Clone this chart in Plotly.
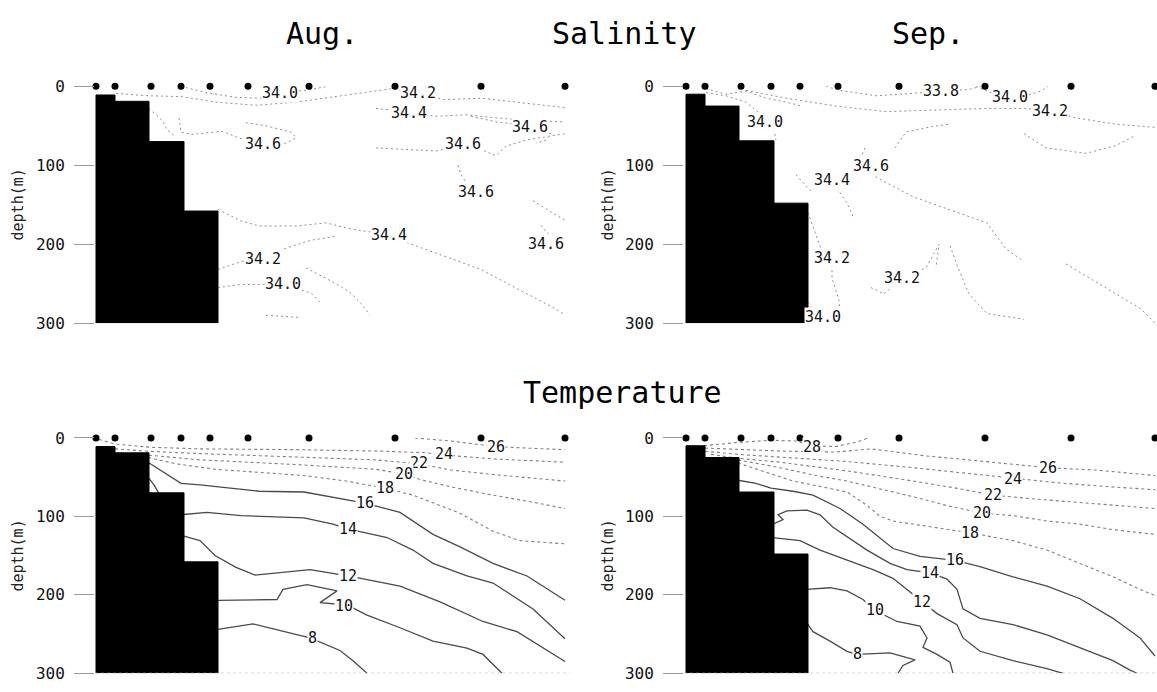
import plotly.graph_objects as go

W, H = 1157, 692

# ---------------- data ----------------
STATIONS = [0, 19, 55, 85, 114, 152, 213, 299, 385, 469]   # station positions (distance units)
DEPTH_TICKS = [0, 100, 200, 300]
BATHY_EDGES = [0, 19, 53, 88, 122]
AUG_BATHY = [11, 19, 70, 158]
SEP_BATHY = [10, 25, 69, 148]

# --- Aug temperature isotherms (x, depth) ---
AUG_T26_X = [319, 355, 380, 401, 430, 469]
AUG_T26_D = [0, 4, 8, 11, 13, 15]
AUG_T24_X = [3, 20, 55, 104, 200, 290, 330, 349, 400, 469]
AUG_T24_D = [2, 8, 12, 14, 15, 17, 19, 22, 27, 31]
AUG_T22_X = [19, 52, 104, 200, 280, 323, 355, 400, 469]
AUG_T22_D = [14, 17, 20, 24, 28, 33, 41, 47, 55]
AUG_T20_X = [35, 52, 104, 200, 280, 308, 324, 357, 397, 437, 469]
AUG_T20_D = [20, 22, 28, 34, 40, 46, 53, 63, 73, 82, 90]
AUG_T18_X = [52, 80, 119, 163, 208, 250, 289, 317, 364, 397, 424, 469]
AUG_T18_D = [25, 33, 40, 44, 48, 55, 64, 73, 96, 119, 131, 135]
AUG_T16_X = [52, 71, 85, 104, 126, 163, 208, 237, 269, 304, 337, 364, 397, 431, 469]
AUG_T16_D = [31, 46, 58, 60, 63, 68, 69, 76, 83, 95, 123, 139, 160, 176, 207]
AUG_T16B_X = [52, 58, 63]
AUG_T16B_D = [50, 60, 71]
AUG_T14_X = [85, 111, 145, 208, 237, 252, 291, 317, 337, 371, 397, 437, 469]
AUG_T14_D = [98, 95, 99, 102, 110, 116, 127, 143, 160, 176, 185, 218, 256]
AUG_T12_X = [87, 104, 119, 140, 159, 214, 252, 304, 344, 387, 421, 469]
AUG_T12_D = [125, 131, 150, 165, 175, 168, 176, 189, 209, 234, 247, 285]
AUG_T10_X = [122, 181, 187, 211, 241, 224, 251, 271, 304, 337, 371, 387, 406]
AUG_T10_D = [207, 206, 193, 187, 195, 210, 213, 226, 242, 259, 268, 276, 300]
AUG_T8_X = [122, 157, 214, 244, 257, 271]
AUG_T8_D = [244, 237, 255, 271, 284, 300]
AUG_T_LABELS = ["26", "24", "22", "20", "18", "16", "14", "12", "10", "8"]
AUG_T_LABEL_X = [400, 348, 323, 308, 289, 269, 252, 252, 248, 216]
AUG_T_LABEL_D = [11, 21, 32, 46, 64, 83, 116, 176, 214, 255]

# --- Sep temperature isotherms ---
SEP_T28_X = [18, 50, 85, 110, 126, 150, 172, 182]
SEP_T28_D = [10, 6, 3, 4, 10, 11, 5, 0]
SEP_T26_X = [19, 52, 100, 150, 185, 204, 240, 290, 330, 362, 410, 469]
SEP_T26_D = [13, 15, 17, 18, 14, 17, 23, 29, 34, 38, 41, 48]
SEP_T24_X = [19, 52, 100, 160, 227, 280, 327, 370, 420, 469]
SEP_T24_D = [17, 21, 25, 30, 38, 45, 52, 57, 62, 66]
SEP_T22_X = [25, 52, 94, 161, 227, 270, 307, 350, 410, 469]
SEP_T22_D = [21, 26, 31, 42, 55, 64, 73, 78, 84, 90]
SEP_T20_X = [52, 94, 130, 161, 227, 260, 296, 327, 361, 394, 427, 469]
SEP_T20_D = [28, 38, 48, 55, 75, 86, 96, 99, 106, 110, 117, 123]
SEP_T18_X = [52, 84, 107, 127, 161, 181, 194, 207, 227, 261, 284, 327, 361, 394, 427, 454, 469]
SEP_T18_D = [32, 45, 55, 60, 69, 86, 100, 106, 110, 116, 121, 131, 143, 160, 177, 193, 201]
SEP_T16_X = [52, 70, 85, 107, 127, 154, 177, 207, 234, 269, 294, 327, 361, 394, 427, 454, 469]
SEP_T16_D = [54, 58, 64, 68, 73, 90, 110, 141, 151, 156, 164, 177, 189, 205, 230, 255, 278]
SEP_T14_X = [87, 97, 92, 101, 121, 134, 147, 161, 181, 204, 221, 244, 261, 271, 277, 294, 327, 361, 394, 427, 444, 451]
SEP_T14_D = [110, 104, 98, 93, 92, 98, 114, 126, 143, 160, 168, 172, 180, 193, 218, 230, 238, 251, 267, 284, 296, 300]
SEP_T12_X = [87, 114, 134, 161, 187, 207, 221, 236, 251, 271, 277, 294, 327, 361, 377]
SEP_T12_D = [127, 131, 143, 156, 168, 179, 193, 209, 224, 238, 255, 272, 284, 294, 300]
SEP_T10_X = [121, 144, 161, 177, 189, 211, 234, 241, 237, 251, 264, 267]
SEP_T10_D = [193, 191, 195, 206, 220, 234, 240, 255, 267, 276, 286, 300]
SEP_T8_X = [121, 127, 144, 161, 171, 204, 229, 217, 212]
SEP_T8_D = [236, 247, 259, 272, 276, 274, 283, 290, 300]
SEP_T_LABELS = ["28", "26", "24", "22", "20", "18", "16", "14", "12", "10", "8"]
SEP_T_LABEL_X = [126, 362, 327, 307, 296, 284, 269, 244, 236, 189, 171]
SEP_T_LABEL_D = [11, 38, 52, 73, 96, 121, 156, 172, 209, 220, 276]

# --- Aug salinity isohalines ---
AUG_S1_X = [85, 110, 140, 165, 184, 215, 232]
AUG_S1_D = [0, 8, 14, 15, 9, 4, 0]
AUG_S2_X = [20, 52, 85, 120, 160, 200, 245, 274, 296, 322, 348, 385, 422, 469]
AUG_S2_D = [9, 12, 13, 20, 24, 20, 12, 7, 3, 9, 17, 15, 20, 27]
AUG_S3_X = [280, 296, 313, 340, 370, 400, 440, 469]
AUG_S3_D = [28, 30, 34, 38, 36, 40, 44, 45]
AUG_S4_X = [375, 400, 420, 434, 455, 450, 440]
AUG_S4_D = [38, 45, 48, 52, 60, 68, 72]
AUG_S5_X = [280, 310, 340, 367, 385, 400, 410, 430, 460, 469]
AUG_S5_D = [78, 80, 82, 73, 80, 88, 76, 68, 62, 60]
AUG_S6_X = [83, 85, 96, 126, 144, 167, 190, 200, 195, 170, 150]
AUG_S6_D = [40, 58, 61, 57, 66, 73, 72, 65, 58, 50, 46]
AUG_S7_X = [53, 60, 67, 71, 80]
AUG_S7_D = [28, 36, 44, 55, 64]
AUG_S8_X = [362, 365, 372, 380]
AUG_S8_D = [100, 112, 125, 134]
AUG_S9_X = [437, 450, 459, 469]
AUG_S9_D = [145, 155, 163, 170]
AUG_S10_X = [445, 450, 455]
AUG_S10_D = [176, 184, 190]
AUG_S11_X = [122, 144, 163, 200, 230, 256, 293, 311, 348, 385, 422, 460, 469]
AUG_S11_D = [156, 170, 177, 177, 173, 181, 188, 198, 215, 232, 257, 282, 290]
AUG_S12_X = [122, 145, 167, 190, 215, 240]
AUG_S12_D = [232, 222, 219, 205, 195, 190]
AUG_S13_X = [210, 225, 240, 255, 265, 274]
AUG_S13_D = [230, 240, 250, 262, 275, 290]
AUG_S14_X = [122, 145, 187, 215, 225]
AUG_S14_D = [255, 251, 251, 262, 275]
AUG_S15_X = [170, 190, 205]
AUG_S15_D = [290, 292, 293]
AUG_S_LABELS = ["34.0", "34.2", "34.4", "34.6", "34.6", "34.6", "34.6", "34.4", "34.6", "34.2", "34.0"]
AUG_S_LABEL_X = [184, 322, 313, 434, 167, 367, 380, 293, 450, 167, 187]
AUG_S_LABEL_D = [9, 9, 34, 52, 73, 73, 134, 188, 200, 219, 251]

# --- Sep salinity isohalines ---
SEP_S1_X = [140, 153, 190, 227, 255, 283, 295]
SEP_S1_D = [0, 5, 12, 9, 6, 4, 0]
SEP_S2_X = [290, 305, 324, 340, 355, 362]
SEP_S2_D = [0, 8, 14, 12, 6, 0]
SEP_S3_X = [20, 40, 60, 79, 88, 90]
SEP_S3_D = [8, 12, 20, 40, 55, 68]
SEP_S4_X = [60, 100, 150, 200, 250, 300, 340, 364, 390, 430, 469]
SEP_S4_D = [5, 15, 25, 32, 30, 28, 28, 31, 40, 48, 52]
SEP_S5_X = [338, 360, 400, 430, 450]
SEP_S5_D = [60, 78, 85, 75, 62]
SEP_S6_X = [179, 175, 185, 190, 227, 264, 301, 320, 338]
SEP_S6_D = [78, 90, 101, 115, 140, 156, 173, 206, 222]
SEP_S7_X = [110, 124, 146, 161, 168]
SEP_S7_D = [112, 132, 119, 148, 168]
SEP_S8_X = [122, 127, 135, 146, 146, 153, 155]
SEP_S8_D = [160, 177, 206, 218, 243, 271, 300]
SEP_S9_X = [185, 198, 216, 240, 253, 250]
SEP_S9_D = [255, 263, 243, 230, 200, 230]
SEP_S10_X = [118, 122, 130, 137]
SEP_S10_D = [262, 275, 290, 300]
SEP_S11_X = [264, 272, 283, 301, 338]
SEP_S11_D = [202, 230, 263, 288, 295]
SEP_S12_X = [380, 400, 420, 440, 455, 469]
SEP_S12_D = [225, 240, 255, 270, 282, 300]
SEP_S13_X = [209, 220, 246, 264]
SEP_S13_D = [78, 58, 51, 48]
SEP_S14_X = [20, 40, 60, 80, 100, 116]
SEP_S14_D = [3, 10, 6, 15, 20, 25]
SEP_S_LABELS = ["33.8", "34.0", "34.2", "34.0", "34.6", "34.4", "34.2", "34.2", "34.0"]
SEP_S_LABEL_X = [255, 324, 364, 79, 185, 146, 146, 216, 137]
SEP_S_LABEL_D = [6, 14, 31, 45, 101, 119, 218, 243, 292]

# ---------------- styles ----------------
SAL_STYLE = dict(color="#8f8f8f", width=1, dash="2px,3px")
WARM_STYLE = dict(color="#7f7f7f", width=1.1, dash="3px,3px")
COLD_STYLE = dict(color="#4a4a4a", width=1.3)

panels = [
    dict(xa="x", ya="y", bathy=AUG_BATHY,
         lines=[(AUG_S1_X, AUG_S1_D, SAL_STYLE), (AUG_S2_X, AUG_S2_D, SAL_STYLE),
                (AUG_S3_X, AUG_S3_D, SAL_STYLE), (AUG_S4_X, AUG_S4_D, SAL_STYLE),
                (AUG_S5_X, AUG_S5_D, SAL_STYLE), (AUG_S6_X, AUG_S6_D, SAL_STYLE),
                (AUG_S7_X, AUG_S7_D, SAL_STYLE), (AUG_S8_X, AUG_S8_D, SAL_STYLE),
                (AUG_S9_X, AUG_S9_D, SAL_STYLE), (AUG_S10_X, AUG_S10_D, SAL_STYLE),
                (AUG_S11_X, AUG_S11_D, SAL_STYLE), (AUG_S12_X, AUG_S12_D, SAL_STYLE),
                (AUG_S13_X, AUG_S13_D, SAL_STYLE), (AUG_S14_X, AUG_S14_D, SAL_STYLE),
                (AUG_S15_X, AUG_S15_D, SAL_STYLE)],
         labels=(AUG_S_LABELS, AUG_S_LABEL_X, AUG_S_LABEL_D), base=False),
    dict(xa="x2", ya="y2", bathy=SEP_BATHY,
         lines=[(SEP_S1_X, SEP_S1_D, SAL_STYLE), (SEP_S2_X, SEP_S2_D, SAL_STYLE),
                (SEP_S3_X, SEP_S3_D, SAL_STYLE), (SEP_S4_X, SEP_S4_D, SAL_STYLE),
                (SEP_S5_X, SEP_S5_D, SAL_STYLE), (SEP_S6_X, SEP_S6_D, SAL_STYLE),
                (SEP_S7_X, SEP_S7_D, SAL_STYLE), (SEP_S8_X, SEP_S8_D, SAL_STYLE),
                (SEP_S9_X, SEP_S9_D, SAL_STYLE), (SEP_S10_X, SEP_S10_D, SAL_STYLE),
                (SEP_S11_X, SEP_S11_D, SAL_STYLE), (SEP_S12_X, SEP_S12_D, SAL_STYLE),
                (SEP_S13_X, SEP_S13_D, SAL_STYLE), (SEP_S14_X, SEP_S14_D, SAL_STYLE)],
         labels=(SEP_S_LABELS, SEP_S_LABEL_X, SEP_S_LABEL_D), base=False),
    dict(xa="x3", ya="y3", bathy=AUG_BATHY,
         lines=[(AUG_T26_X, AUG_T26_D, WARM_STYLE), (AUG_T24_X, AUG_T24_D, WARM_STYLE),
                (AUG_T22_X, AUG_T22_D, WARM_STYLE), (AUG_T20_X, AUG_T20_D, WARM_STYLE),
                (AUG_T18_X, AUG_T18_D, WARM_STYLE), (AUG_T16_X, AUG_T16_D, COLD_STYLE),
                (AUG_T16B_X, AUG_T16B_D, COLD_STYLE), (AUG_T14_X, AUG_T14_D, COLD_STYLE),
                (AUG_T12_X, AUG_T12_D, COLD_STYLE), (AUG_T10_X, AUG_T10_D, COLD_STYLE),
                (AUG_T8_X, AUG_T8_D, COLD_STYLE)],
         labels=(AUG_T_LABELS, AUG_T_LABEL_X, AUG_T_LABEL_D), base=True),
    dict(xa="x4", ya="y4", bathy=SEP_BATHY,
         lines=[(SEP_T28_X, SEP_T28_D, WARM_STYLE), (SEP_T26_X, SEP_T26_D, WARM_STYLE),
                (SEP_T24_X, SEP_T24_D, WARM_STYLE), (SEP_T22_X, SEP_T22_D, WARM_STYLE),
                (SEP_T20_X, SEP_T20_D, WARM_STYLE), (SEP_T18_X, SEP_T18_D, WARM_STYLE),
                (SEP_T16_X, SEP_T16_D, COLD_STYLE), (SEP_T14_X, SEP_T14_D, COLD_STYLE),
                (SEP_T12_X, SEP_T12_D, COLD_STYLE), (SEP_T10_X, SEP_T10_D, COLD_STYLE),
                (SEP_T8_X, SEP_T8_D, COLD_STYLE)],
         labels=(SEP_T_LABELS, SEP_T_LABEL_X, SEP_T_LABEL_D), base=True),
]

fig = go.Figure()
annotations = []
shapes = []

for p in panels:
    # contour lines
    for xs, ds, st in p["lines"]:
        fig.add_trace(go.Scatter(x=xs, y=ds, mode="lines", line=st,
                                 xaxis=p["xa"], yaxis=p["ya"], hoverinfo="skip",
                                 showlegend=False))
    # bathymetry (stepped black block)
    bx, bd = [BATHY_EDGES[0]], [300]
    for i, dep in enumerate(p["bathy"]):
        bx += [BATHY_EDGES[i], BATHY_EDGES[i + 1]]
        bd += [dep, dep]
    bx += [BATHY_EDGES[-1]]
    bd += [300]
    fig.add_trace(go.Scatter(x=bx, y=bd, mode="lines", fill="toself",
                             fillcolor="black", line=dict(color="black", width=1),
                             xaxis=p["xa"], yaxis=p["ya"], hoverinfo="skip",
                             showlegend=False))
    # stations
    fig.add_trace(go.Scatter(x=STATIONS, y=[0] * len(STATIONS), mode="markers",
                             marker=dict(color="black", size=7),
                             cliponaxis=False, xaxis=p["xa"], yaxis=p["ya"],
                             hoverinfo="skip", showlegend=False))
    # contour labels
    txt, lx, ld = p["labels"]
    for t, x, d in zip(txt, lx, ld):
        annotations.append(dict(x=x, y=d, xref=p["xa"], yref=p["ya"], text=t,
                                showarrow=False, bgcolor="white", borderpad=0,
                                font=dict(family="DejaVu Sans Mono", size=15,
                                          color="#111")))
    if p["base"]:
        shapes.append(dict(type="line", xref=p["xa"] + " domain", yref=p["ya"],
                           x0=0, x1=1, y0=300, y1=300,
                           line=dict(color="#aaaaaa", width=1, dash="dot")))

# titles
title_font = dict(family="DejaVu Sans Mono", size=30, color="black")
for text, xp, yp in [("Aug.", 322, 25.5), ("Salinity", 624, 25.5),
                     ("Sep.", 928, 25.5), ("Temperature", 622, 394)]:
    annotations.append(dict(x=xp / W, y=1 - yp / H, xref="paper", yref="paper",
                            text=text, showarrow=False, font=title_font,
                            xanchor="center", yanchor="middle"))
# depth axis titles
for xp, yp in [(18, 201), (608, 201), (18, 562), (608, 562)]:
    annotations.append(dict(x=xp / W, y=1 - yp / H, xref="paper", yref="paper",
                            text="depth(m)", textangle=-90, showarrow=False,
                            font=dict(family="DejaVu Sans Mono", size=15, color="#222"),
                            xanchor="center", yanchor="middle"))

xl = [95 / W, 570 / W]
xr = [684 / W, 1.0]
yt = [1 - 323 / H, 1 - 79.5 / H]
yb = [1 - 683 / H, 1 - 441 / H]

def xax(dom, rng, anchor):
    return dict(domain=dom, range=rng, visible=False, anchor=anchor, fixedrange=True)

def yax(dom, anchor):
    return dict(domain=dom, range=[300, 0], anchor=anchor, tickmode="array",
                tickvals=DEPTH_TICKS, ticktext=[str(v) for v in DEPTH_TICKS],
                ticks="outside", ticklen=20, tickcolor="#9a9a9a", tickwidth=1,
                ticklabelstandoff=6,
                tickfont=dict(family="DejaVu Sans Mono", size=16, color="#111"),
                showgrid=False, zeroline=False, showline=False, fixedrange=True)

fig.update_layout(
    width=W, height=H,
    margin=dict(l=0, r=0, t=0, b=0),
    paper_bgcolor="white", plot_bgcolor="white",
    showlegend=False,
    xaxis=xax(xl, [-1, 474], "y"),
    xaxis2=xax(xr, [-2, 471], "y2"),
    xaxis3=xax(xl, [-1, 474], "y3"),
    xaxis4=xax(xr, [-2, 471], "y4"),
    yaxis=yax(yt, "x"),
    yaxis2=yax(yt, "x2"),
    yaxis3=yax(yb, "x3"),
    yaxis4=yax(yb, "x4"),
    annotations=annotations,
    shapes=shapes,
)

fig.write_html("out.html")
